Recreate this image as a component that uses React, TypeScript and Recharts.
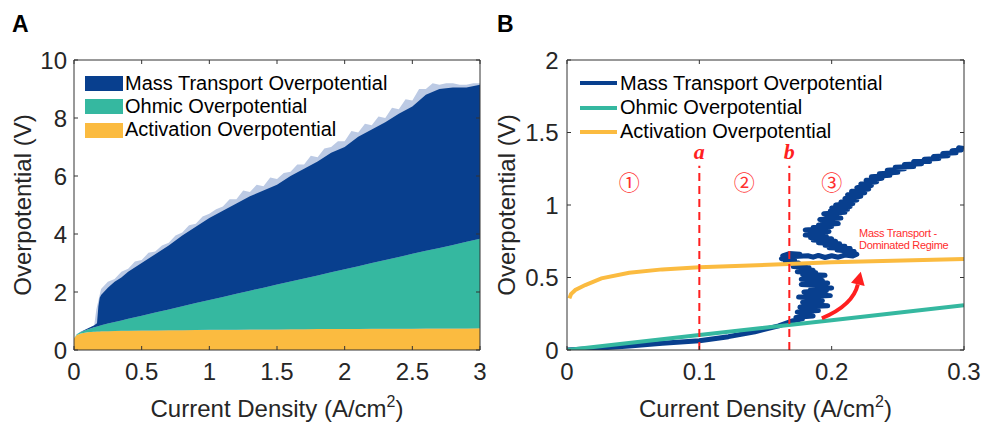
import React from 'react';
import { ComposedChart, Area, Line, XAxis, YAxis, ReferenceLine, ReferenceDot } from 'recharts';

const FONT = '"Liberation Sans", Arial, Helvetica, sans-serif';
const TEXT = '#262626';
const AXIS = '#333333';
const BLUE = '#083f8e';
const TEAL = '#35b8a0';
const YELLOW = '#fbbb40';
const FRINGE = '#bccae4';
const RED = '#ff1f1f';

// ---------- Panel A (stacked areas) ----------
const xA = [0, 0.02, 0.05, 0.1, 0.15, 0.17, 0.18, 0.19, 0.2, 0.25, 0.3, 0.35, 0.4, 0.5, 0.6, 0.7, 0.8, 0.9, 1.0, 1.1, 1.2, 1.3, 1.4, 1.5, 1.6, 1.7, 1.8, 1.9, 2.0, 2.1, 2.2, 2.3, 2.4, 2.5, 2.6, 2.7, 2.8, 2.9, 3.0];
const activationA = [0.4, 0.52, 0.57, 0.61, 0.63, 0.635, 0.64, 0.64, 0.645, 0.65, 0.655, 0.66, 0.665, 0.67, 0.675, 0.68, 0.685, 0.69, 0.695, 0.7, 0.7, 0.705, 0.71, 0.71, 0.715, 0.715, 0.72, 0.72, 0.725, 0.725, 0.73, 0.73, 0.735, 0.735, 0.74, 0.74, 0.745, 0.745, 0.75];
const ohmicA = [0, 0.02, 0.05, 0.1, 0.155, 0.175, 0.185, 0.195, 0.205, 0.26, 0.31, 0.36, 0.41, 0.515, 0.62, 0.72, 0.82, 0.93, 1.03, 1.13, 1.24, 1.34, 1.44, 1.55, 1.65, 1.75, 1.85, 1.96, 2.06, 2.16, 2.27, 2.37, 2.47, 2.58, 2.68, 2.78, 2.88, 2.99, 3.09];
const massA = [0, 0.005, 0.01, 0.03, 0.065, 0.11, 0.675, 0.965, 1.05, 1.24, 1.385, 1.48, 1.625, 1.815, 2.005, 2.2, 2.445, 2.63, 2.825, 2.97, 3.11, 3.255, 3.35, 3.44, 3.635, 3.785, 3.93, 4.12, 4.215, 4.465, 4.6, 4.75, 4.945, 5.085, 5.38, 5.48, 5.425, 5.315, 5.31];
// light noisy upper envelope of the mass-transport band
const envX = [0.15, 0.165, 0.2, 0.25, 0.3, 0.35, 0.4, 0.45, 0.5, 0.55, 0.6, 0.65, 0.7, 0.75, 0.8, 0.85, 0.9, 0.95, 1.0, 1.05, 1.1, 1.15, 1.2, 1.25, 1.3, 1.35, 1.4, 1.45, 1.5, 1.55, 1.6, 1.65, 1.7, 1.75, 1.8, 1.85, 1.9, 1.95, 2.0, 2.05, 2.1, 2.15, 2.2, 2.25, 2.3, 2.35, 2.4, 2.45, 2.5, 2.55, 2.6, 2.65, 2.7, 2.75, 2.8, 2.85, 2.9, 2.95, 3.0];
const envY = [0.87, 1.4, 2.1, 2.35, 2.45, 2.7, 2.8, 3.05, 3.1, 3.35, 3.4, 3.6, 3.7, 3.95, 4.05, 4.3, 4.35, 4.6, 4.7, 4.85, 4.95, 5.2, 5.2, 5.5, 5.45, 5.7, 5.65, 5.95, 5.9, 6.1, 6.15, 6.4, 6.4, 6.7, 6.65, 6.95, 7.0, 7.2, 7.2, 7.55, 7.5, 7.8, 7.75, 8.05, 8.0, 8.35, 8.3, 8.65, 8.6, 9.0, 9.0, 9.2, 9.15, 9.2, 9.2, 9.15, 9.15, 9.2, 9.2];
const xTicksA = [0, 0.5, 1, 1.5, 2, 2.5, 3];
const yTicksA = [0, 2, 4, 6, 8, 10];

// ---------- Panel B (lines) ----------
const ohmicB: [number, number][] = [[0, 0], [0.1, 0.103], [0.2, 0.205], [0.3, 0.308]];
const activationB: [number, number][] = [[0.0018, 0.356], [0.003, 0.385], [0.0063, 0.414], [0.0138, 0.448], [0.026, 0.494], [0.047, 0.533], [0.072, 0.556], [0.1, 0.57], [0.167, 0.593], [0.2, 0.605], [0.3, 0.628]];
const massB: [number, number][] = [
  [0, 0], [0.021, 0.011], [0.047, 0.028], [0.072, 0.046], [0.1, 0.064], [0.122, 0.092], [0.142, 0.126], [0.16, 0.166], [0.17, 0.2],
  [0.178, 0.215], [0.173, 0.225], [0.186, 0.235], [0.176, 0.245], [0.181, 0.255], [0.174, 0.262], [0.19, 0.272], [0.18, 0.28], [0.186, 0.29], [0.176, 0.296], [0.197, 0.305], [0.183, 0.312], [0.19, 0.322], [0.178, 0.33], [0.193, 0.34], [0.182, 0.348], [0.188, 0.357], [0.175, 0.365], [0.199, 0.375], [0.186, 0.383], [0.194, 0.392], [0.179, 0.4], [0.196, 0.41], [0.184, 0.418], [0.2, 0.428], [0.186, 0.436], [0.192, 0.444], [0.177, 0.452], [0.197, 0.462], [0.183, 0.47], [0.193, 0.48], [0.177, 0.488], [0.19, 0.497], [0.18, 0.505], [0.195, 0.515], [0.178, 0.522], [0.188, 0.532], [0.174, 0.54], [0.186, 0.55], [0.176, 0.558], [0.183, 0.567], [0.171, 0.575], [0.18, 0.585], [0.17, 0.592],
  [0.175, 0.6], [0.165, 0.61], [0.172, 0.62], [0.162, 0.63], [0.17, 0.64], [0.163, 0.65], [0.168, 0.665], [0.176, 0.66], [0.172, 0.645], [0.182, 0.65], [0.186, 0.64], [0.19, 0.652], [0.195, 0.638], [0.2, 0.65], [0.205, 0.64], [0.21, 0.655], [0.216, 0.648], [0.219, 0.66],
  [0.21, 0.67], [0.217, 0.68], [0.204, 0.69], [0.214, 0.7], [0.198, 0.705], [0.21, 0.715], [0.195, 0.722], [0.206, 0.732], [0.19, 0.74], [0.203, 0.75], [0.186, 0.758], [0.2, 0.768], [0.184, 0.775], [0.196, 0.785], [0.18, 0.793], [0.193, 0.8], [0.182, 0.81], [0.198, 0.818], [0.18, 0.828], [0.192, 0.836], [0.186, 0.845], [0.2, 0.852], [0.19, 0.862], [0.205, 0.872], [0.193, 0.88], [0.202, 0.89], [0.191, 0.9], [0.207, 0.91], [0.196, 0.92], [0.204, 0.93], [0.194, 0.94], [0.21, 0.95], [0.199, 0.96], [0.212, 0.97], [0.2, 0.98], [0.214, 0.99], [0.203, 1.0], [0.216, 1.01], [0.207, 1.02], [0.219, 1.035], [0.21, 1.045], [0.222, 1.06], [0.212, 1.07], [0.225, 1.085], [0.215, 1.095], [0.228, 1.11], [0.219, 1.12], [0.23, 1.135], [0.222, 1.145], [0.234, 1.16], [0.226, 1.17], [0.238, 1.185], [0.23, 1.195], [0.244, 1.205], [0.236, 1.215], [0.25, 1.225], [0.242, 1.24], [0.255, 1.25], [0.248, 1.26], [0.262, 1.265], [0.255, 1.28], [0.268, 1.285], [0.262, 1.3], [0.274, 1.3], [0.27, 1.315], [0.281, 1.32], [0.277, 1.335], [0.288, 1.34], [0.284, 1.355], [0.294, 1.36], [0.291, 1.375], [0.298, 1.38], [0.296, 1.395], [0.3, 1.39]
];
const xTicksB = [0, 0.1, 0.2, 0.3];
const yTicksB = [0, 0.5, 1, 1.5, 2];

const seriesNames = ['Mass Transport Overpotential', 'Ohmic Overpotential', 'Activation Overpotential'];
const seriesColors = [BLUE, TEAL, YELLOW];

const dividerX = [0.1, 0.168];
const dividerNames = ['a', 'b'];
const regionX = [0.047, 0.134, 0.2];
const regionNames = ['\u2460', '\u2461', '\u2462'];
const regimeText = ['Mass Transport -', 'Dominated Regime'];

const tableA = xA.map((x, i) => ({ x, act: activationA[i], ohm: ohmicA[i], mass: massA[i] }));
const envData = envX.map((x, i) => ({ x, env: envY[i] }));
const toRows = (pts: [number, number][]) => pts.map(([x, y]) => ({ x, y }));

const tickStyle = { fill: TEXT, fontSize: 24, fontFamily: FONT };

const xLabel = (props: any) => {
  const vb = props.viewBox || { x: 0, y: 0, width: 0 };
  return (
    <text x={vb.x + vb.width / 2} y={vb.y + 67} textAnchor="middle" fontFamily={FONT} fontSize={24} fill={TEXT}>
      Current Density (A/cm<tspan dy={-10} fontSize={16}>2</tspan><tspan dy={10}>)</tspan>
    </text>
  );
};
const yLabel = (cx: number) => (props: any) => {
  const vb = props.viewBox || { y: 0, height: 0 };
  const cy = vb.y + vb.height / 2;
  return (
    <text x={cx} y={cy} transform={`rotate(-90 ${cx} ${cy})`} textAnchor="middle" dominantBaseline="central" fontFamily={FONT} fontSize={24} fill={TEXT}>
      Overpotential (V)
    </text>
  );
};

const Arrow = (p: any) => {
  const { x1, y1, x2, y2 } = p;
  const cx = x1 + 0.8 * (x2 - x1);
  const cy = y1 + 0.28 * (y2 - y1);
  const ang = Math.atan2(y2 - cy, x2 - cx);
  const L = 13, W = 7;
  const bx = x2 - L * Math.cos(ang), by = y2 - L * Math.sin(ang);
  const nx = -Math.sin(ang), ny = Math.cos(ang);
  return (
    <g>
      <path d={`M${x1},${y1} Q${cx},${cy} ${bx},${by}`} fill="none" stroke={RED} strokeWidth={4} />
      <polygon points={`${x2},${y2} ${bx + W * nx},${by + W * ny} ${bx - W * nx},${by - W * ny}`} fill={RED} />
    </g>
  );
};

const LegendA = () => (
  <>
    {seriesNames.map((n, i) => (
      <React.Fragment key={n}>
        <div style={{ position: 'absolute', left: 85, top: 76 + i * 23.3, width: 38, height: 15, background: seriesColors[i] }} />
        <div style={{ position: 'absolute', left: 125, top: 90 + i * 23 - 17, fontFamily: FONT, fontSize: 20, lineHeight: '20px', color: '#000', whiteSpace: 'nowrap' }}>{n}</div>
      </React.Fragment>
    ))}
  </>
);
const LegendB = () => (
  <>
    {seriesNames.map((n, i) => (
      <React.Fragment key={n}>
        <div style={{ position: 'absolute', left: 580, top: 83.3 + i * 24.2 - 2, width: 37, height: 4, background: seriesColors[i] }} />
        <div style={{ position: 'absolute', left: 620, top: 90 + i * 23.8 - 17, fontFamily: FONT, fontSize: 20, lineHeight: '20px', color: '#000', whiteSpace: 'nowrap' }}>{n}</div>
      </React.Fragment>
    ))}
  </>
);

export default function App() {
  return (
    <div style={{ position: 'absolute', left: 0, top: 0, width: 985, height: 423, background: '#fff', overflow: 'hidden' }}>
      <div style={{ position: 'absolute', left: 12, top: 12.5, fontFamily: FONT, fontWeight: 'bold', fontSize: 23, lineHeight: '23px', color: '#000' }}>A</div>
      <div style={{ position: 'absolute', left: 497, top: 12.5, fontFamily: FONT, fontWeight: 'bold', fontSize: 23, lineHeight: '23px', color: '#000' }}>B</div>

      <div style={{ position: 'absolute', left: 0, top: 0 }}>
        <ComposedChart width={490} height={423} data={tableA} margin={{ top: 59, right: 9, bottom: 0, left: 0 }}>
          <XAxis xAxisId="b" dataKey="x" type="number" domain={[0, 3]} ticks={xTicksA} orientation="bottom" height={73} tickSize={-4} tickMargin={17} tick={tickStyle} stroke={AXIS} allowDataOverflow label={xLabel} />
          <XAxis xAxisId="t" dataKey="x" type="number" domain={[0, 3]} ticks={xTicksA} orientation="top" height={1} tickSize={-4} tickFormatter={() => ''} stroke={AXIS} allowDataOverflow />
          <YAxis yAxisId="l" type="number" domain={[0, 10]} ticks={yTicksA} width={74} tickSize={-4} tickMargin={11} tick={tickStyle} stroke={AXIS} allowDataOverflow label={yLabel(22)} />
          <YAxis yAxisId="r" orientation="right" type="number" domain={[0, 10]} ticks={yTicksA} width={1} tickSize={-4} tickFormatter={() => ''} stroke={AXIS} allowDataOverflow />
          <Area xAxisId="b" yAxisId="l" data={envData} dataKey="env" type="linear" fill={FRINGE} fillOpacity={1} stroke="none" isAnimationActive={false} />
          <Area xAxisId="b" yAxisId="l" stackId="s" dataKey="act" type="linear" fill={YELLOW} fillOpacity={1} stroke="none" isAnimationActive={false} />
          <Area xAxisId="b" yAxisId="l" stackId="s" dataKey="ohm" type="linear" fill={TEAL} fillOpacity={1} stroke="none" isAnimationActive={false} />
          <Area xAxisId="b" yAxisId="l" stackId="s" dataKey="mass" type="linear" fill={BLUE} fillOpacity={1} stroke="none" isAnimationActive={false} />
        </ComposedChart>
      </div>

      <div style={{ position: 'absolute', left: 490, top: 0 }}>
        <ComposedChart width={495} height={423} margin={{ top: 59, right: 20, bottom: 0, left: 0 }}>
          <XAxis xAxisId="b" dataKey="x" type="number" domain={[0, 0.3]} ticks={xTicksB} orientation="bottom" height={73} tickSize={-4} tickMargin={17} tick={tickStyle} stroke={AXIS} allowDataOverflow label={xLabel} />
          <XAxis xAxisId="t" dataKey="x" type="number" domain={[0, 0.3]} ticks={xTicksB} orientation="top" height={1} tickSize={-4} tickFormatter={() => ''} stroke={AXIS} allowDataOverflow />
          <YAxis yAxisId="l" type="number" domain={[0, 2]} ticks={yTicksB} width={77} tickSize={-4} tickMargin={12.5} tick={tickStyle} stroke={AXIS} allowDataOverflow label={yLabel(16)} />
          <YAxis yAxisId="r" orientation="right" type="number" domain={[0, 2]} ticks={yTicksB} width={1} tickSize={-4} tickFormatter={() => ''} stroke={AXIS} allowDataOverflow />
          <Line xAxisId="b" yAxisId="l" data={toRows(massB)} dataKey="y" type="linear" stroke={BLUE} strokeWidth={5} strokeLinejoin="round" dot={false} isAnimationActive={false} />
          <Line xAxisId="b" yAxisId="l" data={toRows(ohmicB)} dataKey="y" type="linear" stroke={TEAL} strokeWidth={4} dot={false} isAnimationActive={false} />
          <Line xAxisId="b" yAxisId="l" data={toRows(activationB)} dataKey="y" type="linear" stroke={YELLOW} strokeWidth={4} dot={false} isAnimationActive={false} />
          {dividerX.map((x) => (
            <ReferenceLine key={'d' + x} xAxisId="b" yAxisId="l" segment={[{ x, y: 0 }, { x, y: 1.27 }]} stroke={RED} strokeWidth={2} strokeDasharray="8 5" />
          ))}
          {dividerX.map((x, i) => (
            <ReferenceDot key={'n' + x} xAxisId="b" yAxisId="l" x={x} y={1.315} r={0}
              shape={(p: any) => (
                <text x={p.cx} y={p.cy} textAnchor="middle" fontFamily='"Liberation Serif", "DejaVu Serif", serif' fontStyle="italic" fontWeight="bold" fontSize={22} fill={RED}>{dividerNames[i]}</text>
              )} />
          ))}
          {regionX.map((x, i) => (
            <ReferenceDot key={'r' + x} xAxisId="b" yAxisId="l" x={x} y={1.166} r={0}
              shape={(p: any) => (
                <text x={p.cx} y={p.cy} textAnchor="middle" dominantBaseline="central" fontFamily='"Noto Sans CJK SC", "DejaVu Sans", sans-serif' fontSize={21} fill="#ff3030">{regionNames[i]}</text>
              )} />
          ))}
          {regimeText.map((t, i) => (
            <ReferenceDot key={'t' + i} xAxisId="b" yAxisId="l" x={0.2207} y={i === 0 ? 0.807 : 0.724} r={0}
              shape={(p: any) => (
                <text x={p.cx} y={p.cy} textAnchor="start" dominantBaseline="central" fontFamily={FONT} fontSize={11} letterSpacing={-0.3} fill="#ff2d2d">{t}</text>
              )} />
          ))}
          <ReferenceLine xAxisId="b" yAxisId="l" segment={[{ x: 0.1926, y: 0.219 }, { x: 0.222, y: 0.54 }]} shape={Arrow} />
        </ComposedChart>
      </div>

      <LegendA />
      <LegendB />
    </div>
  );
}
